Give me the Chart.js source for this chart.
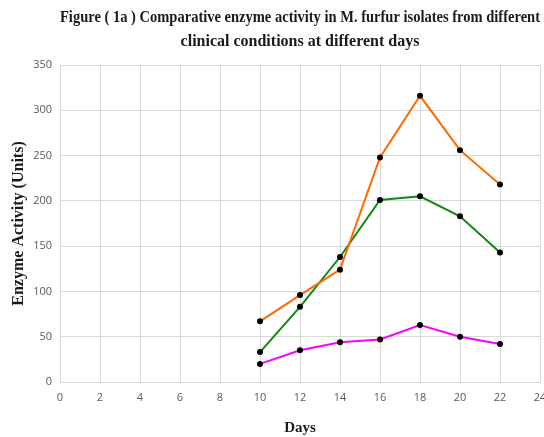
<!DOCTYPE html>
<html>
<head>
<meta charset="utf-8">
<script src="https://cdn.jsdelivr.net/npm/chart.js@4/dist/chart.umd.min.js"></script>
<style>
  html, body { margin: 0; padding: 0; background: #fff; }
  #wrap { width: 544px; height: 437px; position: relative; }
</style>
</head>
<body>
<div id="wrap"><canvas id="chart"></canvas></div>
<script>
  // ---------- data ----------
  var days = [10, 12, 14, 16, 18, 20, 22];
  var seriesOrange = [67, 96, 124, 248, 316, 256, 218];
  var seriesGreen = [33, 83, 138, 201, 205, 183, 143];
  var seriesMagenta = [20, 35, 44, 47, 63, 50, 42];
  var xTicks = [0, 2, 4, 6, 8, 10, 12, 14, 16, 18, 20, 22, 24];
  var yTicks = [0, 50, 100, 150, 200, 250, 300, 350];

  function toPoints(vals) {
    return days.map(function (d, i) { return { x: d, y: vals[i] }; });
  }

  function lineSet(label, vals, color) {
    return {
      label: label,
      data: toPoints(vals),
      borderColor: color,
      backgroundColor: "#000",
      borderWidth: 2,
      pointRadius: 3,
      pointBackgroundColor: "#000",
      pointBorderColor: "#000",
      pointBorderWidth: 0,
      tension: 0,
      fill: false,
    };
  }

  var whiteBg = {
    id: "whiteBg",
    beforeDraw: function (c) {
      var ctx = c.ctx;
      ctx.save();
      ctx.fillStyle = "#fff";
      ctx.fillRect(0, 0, c.width, c.height);
      ctx.restore();
    },
  };

  var serif = "'Liberation Serif', 'Times New Roman', serif";
  var sans = "'Open Sans', 'Liberation Sans', sans-serif";

  new Chart(document.getElementById("chart").getContext("2d"), {
    type: "line",
    data: {
      datasets: [
        lineSet("Series 1", seriesOrange, "#ff6a00"),
        lineSet("Series 2", seriesGreen, "#0f8a0f"),
        lineSet("Series 3", seriesMagenta, "#ff00ff"),
      ],
    },
    plugins: [whiteBg],
    options: {
      responsive: true,
      maintainAspectRatio: false,
      animation: false,
      layout: { padding: { top: 0, right: 4, bottom: 0, left: 0 } },
      plugins: {
        legend: { display: false },
        tooltip: { enabled: false },
        title: {
          display: true,
          fullSize: false,
          text: [
            "Figure ( 1a ) Comparative enzyme activity in M. furfur isolates from different",
            "clinical conditions at different days",
          ],
          color: "#1a1a1a",
          font: { family: serif, size: 16, weight: "bold", lineHeight: 1.5 },
          padding: { top: 6, bottom: 11 },
        },
      },
      scales: {
        x: {
          type: "linear",
          min: 0,
          max: 24,
          afterBuildTicks: function (s) {
            s.ticks = xTicks.map(function (v) { return { value: v }; });
          },
          afterFit: function (s) {
            s.height = 55;
            s.paddingRight = 0;
          },
          grid: { color: "#d9d9d9", lineWidth: 1, drawTicks: false },
          border: { color: "#d9d9d9" },
          ticks: {
            color: "#595959",
            font: { family: sans, size: 11 },
            padding: 9,
            maxRotation: 0,
          },
          title: {
            display: true,
            text: "Days",
            color: "#1a1a1a",
            font: { family: serif, size: 15, weight: "bold" },
            padding: { top: 10, bottom: 0 },
          },
        },
        y: {
          min: 0,
          max: 350,
          afterBuildTicks: function (s) {
            s.ticks = yTicks.map(function (v) { return { value: v }; });
          },
          afterFit: function (s) { s.width = 60; },
          grid: { color: "#d9d9d9", lineWidth: 1, drawTicks: false },
          border: { color: "#d9d9d9" },
          ticks: {
            color: "#595959",
            font: { family: sans, size: 11 },
            padding: 8,
          },
          title: {
            display: true,
            text: "Enzyme Activity (Units)",
            color: "#1a1a1a",
            font: { family: serif, size: 16, weight: "bold" },
            padding: { top: 9, bottom: 4 },
          },
        },
      },
    },
  });
</script>
</body>
</html>
